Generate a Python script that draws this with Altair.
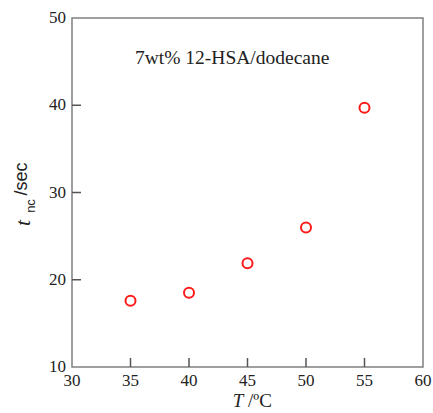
import altair as alt
import pandas as pd

temps = [35, 40, 45, 50, 55]
t_nc = [17.6, 18.5, 21.9, 26.0, 39.7]
x_ticks = [35, 40, 45, 50, 55]
y_ticks = [20, 30, 40]
x_labels = [30, 35, 40, 45, 50, 55, 60]
y_labels = [10, 20, 30, 40, 50]

W, H = 351, 349
SERIF = "Liberation Serif"
SANS = "Liberation Sans"

df = pd.DataFrame({"T": temps, "t": t_nc})
xs = alt.Scale(domain=[30, 60], nice=False, zero=False)
ys = alt.Scale(domain=[10, 50], nice=False, zero=False)

points = alt.Chart(df).mark_point(shape="circle", filled=False, color="#ff1a1a",
                                  strokeWidth=2, size=100, opacity=1).encode(
    x=alt.X("T:Q", scale=xs, axis=None),
    y=alt.Y("t:Q", scale=ys, axis=None),
)

xt = alt.Chart(pd.DataFrame({"T": x_ticks})).mark_rule(color="#555", strokeWidth=1.5).encode(
    x=alt.X("T:Q", scale=xs, axis=None), y=alt.value(H), y2=alt.value(H - 9))
yt = alt.Chart(pd.DataFrame({"t": y_ticks})).mark_rule(color="#555", strokeWidth=1.5).encode(
    y=alt.Y("t:Q", scale=ys, axis=None), x=alt.value(0), x2=alt.value(9))

xl = alt.Chart(pd.DataFrame({"T": x_labels})).mark_text(
    font=SERIF, fontSize=17, color="#222", baseline="middle", align="center").encode(
    x=alt.X("T:Q", scale=xs, axis=None), y=alt.value(H + 14), text=alt.Text("T:Q", format="d"))
yl = alt.Chart(pd.DataFrame({"t": y_labels})).mark_text(
    font=SERIF, fontSize=17, color="#222", baseline="middle", align="right").encode(
    y=alt.Y("t:Q", scale=ys, axis=None), x=alt.value(-6), text=alt.Text("t:Q", format="d"))

def txt(s, x, y, font, size, style="normal", angle=0, align="center"):
    return alt.Chart(pd.DataFrame({"s": [s]})).mark_text(
        font=font, fontSize=size, fontStyle=style, angle=angle, align=align,
        baseline="middle", color="#222").encode(
        text="s:N", x=alt.value(x), y=alt.value(y))

annot = txt("7wt% 12-HSA/dodecane", 63, 40, SERIF, 19.5, align="left")
yt1 = txt("t", -49, 205, SERIF, 22, style="italic", angle=270)
yt2 = txt("nc", -41, 188, SANS, 13, angle=270)
yt3 = txt("/sec", -50, 161, SANS, 18, angle=270)
xt1 = txt("T", 166, 383, SERIF, 19, style="italic")
xt2 = txt("/ºC", 188, 383, SERIF, 19)

chart = alt.layer(points, xt, yt, xl, yl, annot, yt1, yt2, yt3, xt1, xt2).properties(
    width=W, height=H,
    autosize=alt.AutoSizeParams(type="none"),
    padding={"left": 72, "top": 18, "right": 10, "bottom": 46},
    background="white",
).configure_view(stroke="#808080", strokeWidth=1.5)

chart.save("out.html", embed_options={"renderer": "svg", "actions": False})
